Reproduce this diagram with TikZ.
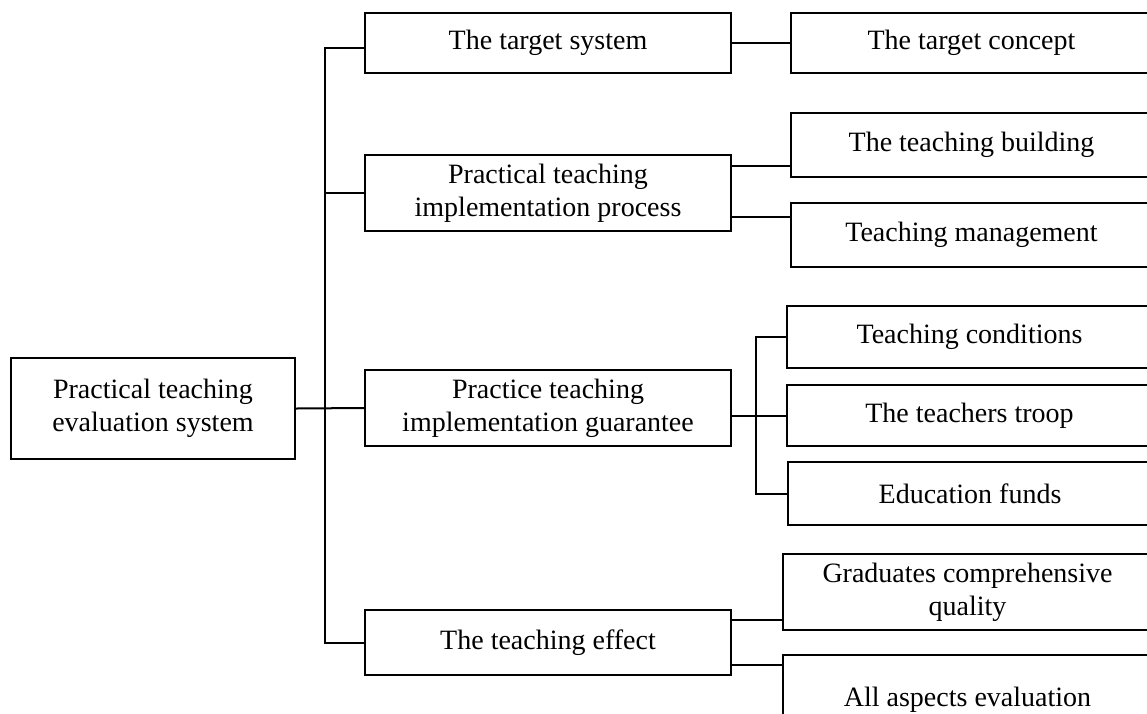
\documentclass[tikz,border=0pt]{standalone}
\usepackage{fontspec}
\setmainfont{Liberation Serif}
\begin{document}
\begin{tikzpicture}[x=1pt,y=-1pt,line width=2pt,
		box/.style={draw,inner sep=0pt,align=center,font=\fontsize{28}{33}\selectfont}]
		\clip (0,0) rectangle (1147,713);
		\node[box,minimum width=284pt,minimum height=101pt] (root) at (153,408.5) {Practical teaching\\evaluation system};
		% first level
		\node[box,minimum width=366pt,minimum height=60pt] (sys) at (548,43) {The target system};
		\node[box,minimum width=366pt,minimum height=76pt] (proc) at (548,193) {Practical teaching\\implementation process};
		\node[box,minimum width=366pt,minimum height=76pt] (guar) at (548,408) {Practice teaching\\implementation guarantee};
		\node[box,minimum width=366pt,minimum height=65pt] (eff) at (548,642.5) {The teaching effect};
		% second level
		\node[box,minimum width=361pt,minimum height=60pt] (concept) at (971.5,43) {The target concept};
		\node[box,minimum width=361pt,minimum height=64pt] (build) at (971.5,145) {The teaching building};
		\node[box,minimum width=361pt,minimum height=64pt] (manage) at (971.5,235) {Teaching management};
		\node[box,minimum width=365pt,minimum height=62pt] (cond) at (969.5,337) {Teaching conditions};
		\node[box,minimum width=365pt,minimum height=61pt] (troop) at (969.5,415.5) {The teachers troop};
		\node[box,minimum width=364pt,minimum height=63pt] (funds) at (970,493.5) {Education funds};
		\node[box,minimum width=369pt,minimum height=76pt] (grad) at (967.5,592) {Graduates comprehensive\\quality};
		\node[box,minimum width=369pt,minimum height=90pt] (allasp) at (967.5,700) {All aspects evaluation};
		\coordinate (t1) at (325,0);
		\coordinate (t2) at (756,0);
		% connectors
		\draw ([yshift=-5pt]sys.west) -| (t1 |- eff.west) -- (eff.west);
		\draw (root.east) -- (guar.west);
		\draw (t1 |- proc.west) -- (proc.west);
		\draw (sys.east) -- (concept.west);
		\draw ([yshift=27pt]proc.east) -- ([yshift=27pt]proc.east -| build.west);
		\draw ([yshift=-24pt]proc.east) -- ([yshift=-24pt]proc.east -| manage.west);
		\draw (guar.east |- troop.west) -- (troop.west);
		\draw (cond.west) -- (t2 |- cond.west) -- (t2 |- funds.west) -- (funds.west);
		\draw ([yshift=22.5pt]eff.east) -- ([yshift=22.5pt]eff.east -| grad.west);
		\draw ([yshift=-22.5pt]eff.east) -- ([yshift=-22.5pt]eff.east -| allasp.west);
	\end{tikzpicture}
\end{document}
